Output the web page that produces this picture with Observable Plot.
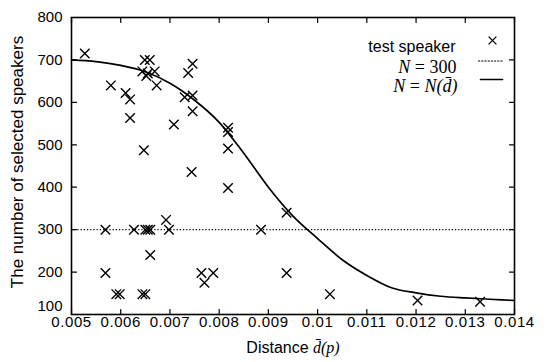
<!DOCTYPE html>
<html><head><meta charset="utf-8">
<script src="https://cdn.jsdelivr.net/npm/d3@7"></script>
<script src="https://cdn.jsdelivr.net/npm/@observablehq/plot@0.6"></script>
<style>
body{margin:0;background:#fff;}
</style></head><body><div id="chart"></div>
<script>
// test speakers: distance d̄(p) and number of selected speakers
const speakerD = [0.00527, 0.0058, 0.0061, 0.00619, 0.00619, 0.00647, 0.00649, 0.00659, 0.00644, 0.00652, 0.00669, 0.00673, 0.00655,
  0.00708, 0.00737, 0.00746, 0.0073, 0.00746, 0.00746, 0.00744, 0.00818, 0.00818, 0.00818, 0.00818,
  0.00569, 0.00627, 0.0065, 0.00655, 0.0066, 0.00692, 0.00698, 0.0066, 0.00569, 0.00591, 0.00598, 0.00644, 0.0065,
  0.00764, 0.00788, 0.0077, 0.00885, 0.00937, 0.00937, 0.01025, 0.01203, 0.0133];
const speakerN = [715, 640, 622, 607, 563, 487, 700, 700, 673, 662, 673, 640, 668,
  548, 669, 691, 612, 616, 579, 436, 540, 530, 491, 398,
  300, 300, 300, 300, 300, 323, 300, 240, 198, 148, 148, 148, 148,
  198, 198, 175, 300, 340, 198, 148, 133, 130];
// fitted curve N = N(d̄)
const curveD = [0.005, 0.0055, 0.006, 0.0065, 0.007, 0.0075, 0.008, 0.0085, 0.009, 0.0095, 0.01, 0.0105, 0.011, 0.0115, 0.012, 0.0125, 0.013, 0.0135, 0.014];
const curveN = [700, 696, 687, 672, 645, 605, 553, 480, 400, 332, 279, 229, 192, 163, 151, 143, 139, 136, 133];
const thresholdN = [300];
const xTicks = [0.005, 0.006, 0.007, 0.008, 0.009, 0.01, 0.011, 0.012, 0.013, 0.014];
const yTicks = [100, 200, 300, 400, 500, 600, 700, 800];
const yTicksUpper = [200, 300, 400, 500, 600, 700, 800];
const yTicksLower = [100];
const xLabel = "Distance d\u0304(p)";
const yLabel = "The number of selected speakers";
const legendSpeaker = "test speaker";
const legendFixed = "N = 300";
const legendCurve = "N = N(d\u0304)";

const points = speakerD.map((d, i) => ({d, n: speakerN[i]}));
const curve = curveD.map((d, i) => ({d, n: curveN[i]}));
const lineShape = {draw(ctx, l) { ctx.moveTo(0, 0); ctx.lineTo(0, -l); }};
const tickStyle = {length: 5, anchor: "start", shape: lineShape, stroke: "#000", strokeWidth: 1.2};

const plot = Plot.plot({
  width: 550, height: 362,
  marginLeft: 71, marginRight: 36, marginTop: 17, marginBottom: 48,
  x: {domain: [0.005, 0.014]},
  y: {domain: [100, 800]},
  style: {fontFamily: "'Liberation Sans', Arial, sans-serif", fontSize: "15px", color: "#000", background: "#fff"},
  marks: [
    Plot.ruleY(thresholdN, {stroke: "#000", strokeWidth: 1.2, strokeDasharray: "1.2,2"}),
    Plot.line(curve, {x: "d", y: "n", curve: "monotone-x", stroke: "#000", strokeWidth: 1.7}),
    Plot.dot(points, {x: "d", y: "n", symbol: "times", r: 4.4, stroke: "#000", strokeWidth: 1.4}),
    Plot.frame({stroke: "#000", strokeWidth: 1.6}),
    Plot.vector(xTicks, {x: d => d, frameAnchor: "bottom", rotate: 0, ...tickStyle}),
    Plot.vector(xTicks, {x: d => d, frameAnchor: "top", rotate: 180, ...tickStyle}),
    Plot.vector(yTicks, {y: d => d, frameAnchor: "left", rotate: 90, ...tickStyle}),
    Plot.vector(yTicks, {y: d => d, frameAnchor: "right", rotate: -90, ...tickStyle}),
    Plot.axisX(xTicks, {anchor: "bottom", tickSize: 0, tickPadding: 2, label: null, tickFormat: d => String(d), fontSize: 15}),
    Plot.axisY(yTicksUpper, {anchor: "left", tickSize: 0, tickPadding: 9, label: null, tickFormat: d => String(d), fontSize: 15}),
    Plot.axisY(yTicksLower, {anchor: "left", tickSize: 0, tickPadding: 9, dy: -8, label: null, tickFormat: d => String(d), fontSize: 15}),
    Plot.text([xLabel], {frameAnchor: "bottom", dy: 38, fontSize: 16, textAnchor: "middle", text: d => d}),
    Plot.text([yLabel], {frameAnchor: "left", rotate: -90, dx: -54, dy: -4, fontSize: 17, textAnchor: "middle", text: d => d}),
    // legend
    Plot.text([legendSpeaker], {frameAnchor: "top-right", dx: -59, dy: 23, textAnchor: "end", fontSize: 16, text: d => d}),
    Plot.text([legendFixed], {frameAnchor: "top-right", dx: -58, dy: 43, textAnchor: "end", fontSize: 18, fontFamily: "'Liberation Serif', serif", text: d => d}),
    Plot.text([legendCurve], {frameAnchor: "top-right", dx: -57, dy: 62, textAnchor: "end", fontSize: 18, fontFamily: "'Liberation Serif', serif", text: d => d}),
    Plot.dot([legendSpeaker], {frameAnchor: "top-right", dx: -22, dy: 23, symbol: "times", r: 3.6, stroke: "#000", strokeWidth: 1.3}),
    Plot.vector([legendFixed], {frameAnchor: "top-right", dx: -36, dy: 43.5, rotate: 90, length: 24, anchor: "start", shape: lineShape, stroke: "#000", strokeWidth: 1.2, strokeDasharray: "1.2,2"}),
    Plot.vector([legendCurve], {frameAnchor: "top-right", dx: -34, dy: 62, rotate: 90, length: 22, anchor: "start", shape: lineShape, stroke: "#000", strokeWidth: 1.6})
  ]
});
document.getElementById("chart").appendChild(plot);

// rich text: italic math parts
function richen(plain, parts) {
  d3.select(plot).selectAll("text").filter(function() { return this.textContent === plain; }).each(function() {
    const t = d3.select(this);
    t.text(null);
    parts.forEach(p => {
      const s = t.append("tspan").text(p.t);
      if (p.i) s.attr("font-style", "italic");
      if (p.f) s.attr("font-family", p.f);
    });
  });
}
richen(xLabel, [{t: "Distance "}, {t: "d\u0304(p)", i: true, f: "'Liberation Serif', serif"}]);
richen(legendFixed, [{t: "N", i: true}, {t: " = 300"}]);
richen(legendCurve, [{t: "N", i: true}, {t: " = "}, {t: "N(d\u0304)", i: true}]);
d3.select(plot).selectAll('g[aria-label="x-axis tick label"] text').style("letter-spacing", "0.6px");
</script>
</body></html>
